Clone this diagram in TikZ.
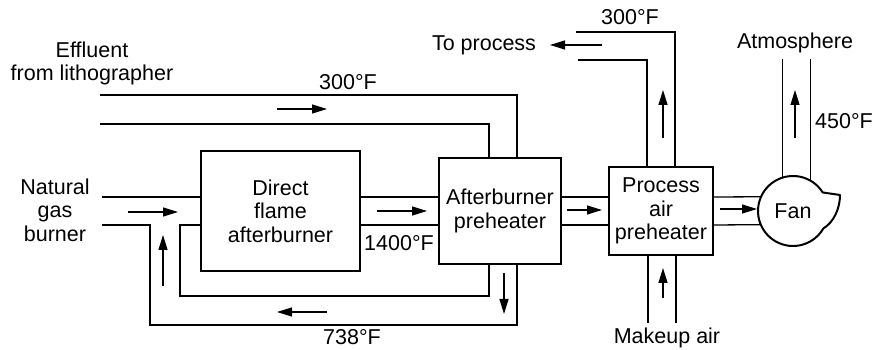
\documentclass[tikz,border=0pt]{standalone}
\usepackage{fontspec}
\setmainfont{Liberation Sans}
\usepackage{tikz}
\usetikzlibrary{arrows.meta, positioning, calc}
\newcommand{\plantfont}{\fontsize{21.5}{23.5}\selectfont}
\tikzset{
    plantblock/.style={rectangle, draw, line width=2pt, align=center, font=\plantfont, inner sep=2pt},
    plantfan/.style={circle, minimum size=70pt, inner sep=0pt, outer sep=0pt, font=\plantfont},
    fanline/.style={line width=2pt, line join=round},
    plantpipe/.style={line width=1.3pt},
    plantarrow/.style={-{Triangle[length=15pt, width=9pt]}, line width=1.3pt},
    plantlabel/.style={align=center, font=\plantfont, inner sep=0pt}
}

\begin{document}
\begin{tikzpicture}[x=1pt, y=1pt]
\useasboundingbox (0,0) rectangle (874,350);

\node[plantblock, minimum width=159pt, minimum height=120pt] (dfa) at (280.5,139) {Direct\\flame\\afterburner};
\node[plantblock, minimum width=122pt, minimum height=106pt, right=77pt of dfa] (abp) {Afterburner\\preheater};
\node[plantblock, minimum width=104pt, minimum height=88pt, right=46pt of abp] (pap) {Process\\air\\preheater};
\node[plantfan, right=44pt of pap] (fan) {Fan};
\draw[fanline] (fan.32) arc[start angle=32, end angle=330, radius=35pt] .. controls +(10,6) and +(0,-14) .. (840,155) -- cycle;

\coordinate (effhi) at (100,255);
\coordinate (efflo) at (100,226);
\coordinate (gashi) at (102,153);
\coordinate (gaslo) at (102,125);
\coordinate (prochi) at (576,318);
\coordinate (proclo) at (578,290);

\draw[plantpipe] (effhi) -| ($(abp.north)+(17,0)$);
\draw[plantpipe] (efflo) -| ($(abp.north)+(-11,0)$);
\draw[plantpipe] (gashi) -- ($(dfa.west)+(0,14)$);
\draw[plantpipe] (gaslo) -| (150,25) -| ($(abp.south)+(17,0)$);
\draw[plantpipe] ($(dfa.west)+(0,-14)$) -| (180,54) -| ($(abp.south)+(-11,0)$);
\draw[plantpipe] ($(dfa.east)+(0,14)$) -- ($(abp.west)+(0,14)$);
\draw[plantpipe] ($(dfa.east)+(0,-14)$) -- ($(abp.west)+(0,-14)$);
\draw[plantpipe] ($(abp.east)+(0,14)$) -- ($(pap.west)+(0,14)$);
\draw[plantpipe] ($(abp.east)+(0,-14)$) -- ($(pap.west)+(0,-14)$);
\draw[plantpipe] ($(pap.north)+(14,0)$) |- (prochi);
\draw[plantpipe] ($(pap.north)+(-14,0)$) |- (proclo);
\draw[plantpipe] ($(pap.south)+(-13,0)$) -- ++(0,-67);
\draw[plantpipe] ($(pap.south)+(15,0)$) -- ++(0,-67);
\draw[plantpipe] ($(pap.east)+(0,14)$) -- (fan.156.4);
\draw[plantpipe] ($(pap.east)+(0,-14)$) -- (fan.203.6);
\draw[plantpipe] (fan.108.3) -- (fan.108.3 |- 0,291);
\draw[plantpipe] (fan.60.9) -- (fan.60.9 |- 0,291);

\draw[plantarrow] (277,241) -- (327,241);
\draw[plantarrow] (128,138) -- (178,138);
\draw[plantarrow] (163,64) -- (163,115);
\draw[plantarrow] (327,38) -- (277,38);
\draw[plantarrow] (377,139) -- (427,139);
\draw[plantarrow] (504,77) -- (504,36);
\draw[plantarrow] (567,140) -- (602,140);
\draw[plantarrow] (602,305) -- (550,305);
\draw[plantarrow] (663,212) -- (663,260);
\draw[plantarrow] (663,52) -- (663,82);
\draw[plantarrow] (720,141) -- (757,141);
\draw[plantarrow] (795,212) -- (795,260);

\node[plantlabel] (efflab) at (92,286.5) {Effluent\\from lithographer};
\node[plantlabel] (efftemp) at (348,268) {300°F};
\node[plantlabel] (gaslab) at (55,140) {Natural\\gas\\burner};
\node[plantlabel] (dfatemp) at (399,107) {1400°F};
\node[plantlabel] (looptemp) at (352,13) {738°F};
\node[plantlabel] (proclab) at (484,305) {To process};
\node[plantlabel] (proctemp) at (630,333) {300°F};
\node[plantlabel] (atmlab) at (795,307) {Atmosphere};
\node[plantlabel, anchor=west] (atmtemp) at (815,229) {450°F};
\node[plantlabel] (makelab) at (667,12) {Makeup air};

\end{tikzpicture}
\end{document}
